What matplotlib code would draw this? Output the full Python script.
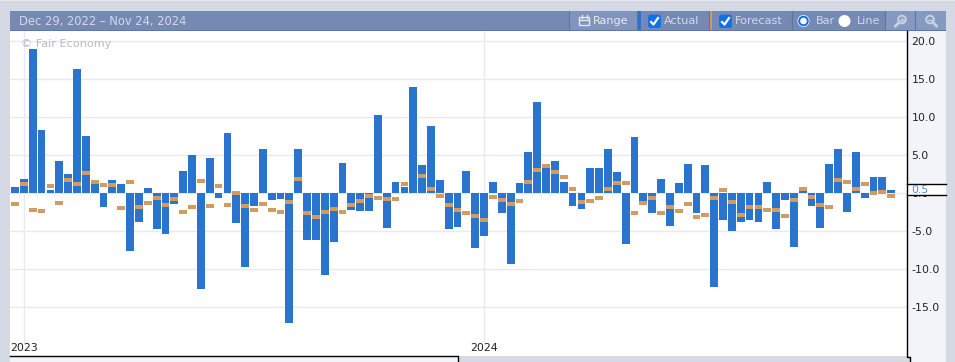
import numpy as np
import matplotlib.pyplot as plt
from matplotlib.patches import Rectangle, Circle, FancyBboxPatch

# weekly values
actual = [0.8, 1.85, 18.95, 8.4, 0.5, 4.2, 2.5, 16.3, 7.6, 1.3,
          -1.8, 1.7, 1.2, -7.6, -3.8, 0.65, -4.7, -5.3, -1.45, 3.0,
          5.1, -12.6, 4.6, -0.65, 7.9, -3.95, -9.7, -1.7, 5.9, -0.9,
          -0.8, -17.1, 5.9, -6.2, -6.2, -10.8, -6.45, 4.05, -2.25, -2.35,
          -2.35, 10.3, -4.6, 1.45, 0.9, 13.95, 3.7, 8.8, 1.7, -4.75,
          -4.45, 3.0, -7.2, -5.65, 1.45, -2.6, -9.35, 1.3, 5.5, 12.0,
          3.4, 4.2, 1.45, -1.7, -2.1, 3.3, 3.3, 5.9, 2.75, -6.6,
          7.35, -1.3, -2.6, 1.85, -4.35, 1.3, 3.8, -2.6, 3.7, -12.35,
          -3.55, -5.0, -3.8, -3.55, -3.8, 1.45, -4.75, -0.9, -7.1, 0.4,
          -1.7, -4.6, 3.9, 5.8, -2.4, 5.5, -0.65, 2.2, 2.2, 0.5]
forecast = [-1.4, 1.25, -2.2, -2.3, 1.0, -1.3, 1.75, 1.25, 2.7, 1.5,
            1.1, 1.1, -1.9, 1.5, -1.8, -1.3, -0.6, -1.55, -0.75, -2.45,
            -1.8, 1.6, -1.65, 1.0, -1.55, 0.05, -1.65, -2.2, -1.4, -2.2,
            -2.45, -1.15, 1.9, -2.6, -3.1, -2.45, -2.1, -2.45, -1.55, -1.05,
            -0.4, -0.6, -0.75, -0.75, 1.25, np.nan, 2.3, 0.6, -0.35, -1.55,
            -2.2, -2.6, -3.0, -3.5, -0.5, -0.9, -1.4, -1.0, 1.55, 3.1,
            3.6, 2.85, 2.2, 0.55, -1.2, -1.0, -0.6, 0.55, 1.35, 1.35,
            -2.6, -1.3, -0.6, -2.6, -1.8, -2.35, -1.4, -3.1, -2.85, -0.6,
            0.45, -1.1, -2.85, -1.8, -1.8, -2.2, -2.2, -3.0, -0.9, 0.55,
            -0.5, -1.55, -1.8, 1.75, 1.5, 0.55, 1.25, 0.05, 0.2, -0.35]
y_ticks = [-15, -10, -5, 0, 5, 10, 15, 20]
year_pos = [1, 53]
year_labels = ['2023', '2024']
current = 0.5

BLUE = '#2874cf'
ORANGE = '#d39b5f'
GRID = '#e8e9f1'
BG = '#d5d9e3'
HEADER = '#7589b4'
PANEL = '#f3f4f9'
ICON = '#c9d1e3'

plt.rcParams['font.family'] = ['DejaVu Sans']

W, H = 955, 362
fig = plt.figure(figsize=(W / 100, H / 100), dpi=100, facecolor=BG)

# panel behind the value labels
back = fig.add_axes([0, 0, 1, 1], facecolor='none', zorder=0)
back.set_xlim(0, W)
back.set_ylim(H, 0)
back.axis('off')
back.add_patch(Rectangle((906.5, 31), 39.5, 325, color=PANEL, lw=0))
back.add_patch(Rectangle((910, 356), 36, 6, color=PANEL, lw=0))

# main chart, 8.85 px per week and 7.6 px per unit
ax = fig.add_axes([10 / W, 1 - 356 / H, 896.5 / W, 325 / H], zorder=1)
x = np.arange(len(actual))
ax.set_xlim(-0.565, 100.73)
ax.set_ylim(-21.4, 21.36)
ax.set_facecolor('white')
for s in ['top', 'left', 'bottom', 'right']:
    ax.spines[s].set_visible(False)
ax.set_axisbelow(True)
ax.grid(axis='y', color=GRID, lw=1)
ax.vlines(year_pos, -19.5, 21.36, color=GRID, lw=1, zorder=0)
ax.bar(x, actual, width=0.88, color=BLUE, zorder=2)
ax.bar(x, [0.53] * len(x), bottom=np.array(forecast) - 0.265, width=0.88,
       color=ORANGE, zorder=3)

ax.yaxis.tick_right()
ax.set_yticks(y_ticks)
ax.set_yticklabels(['%.1f' % v for v in y_ticks], fontsize=7.9, color='#222222')
ax.tick_params(axis='y', length=0, pad=3.5)
ax.set_xticks([])
for p, s in zip(year_pos, year_labels):
    ax.text(p, -20.36, s, ha='center', va='center', fontsize=7.9, color='#222222')

# page furniture in pixel coordinates, on a clear axes on top
ui = fig.add_axes([0, 0, 1, 1], facecolor='none', zorder=5)
ui.set_xlim(0, W)
ui.set_ylim(H, 0)
ui.axis('off')

ui.add_patch(Rectangle((0, 0), W, 1, color='#e6e8ee', lw=0))
ui.add_patch(Rectangle((10, 11), 936, 20, color=HEADER, lw=0))
ui.add_patch(Rectangle((10, 30), 936, 1, color='#5b76aa', lw=0))

# right hand value panel
ui.plot([906.5, 906.5, 910, 910], [31, 356.5, 356.5, 362], color='black', lw=1)
ui.add_patch(Rectangle((906.5, 184), 39.5, 11.3, color='white', lw=0))
ui.plot([906.5, 946], [184, 184], color='black', lw=1)
ui.plot([906.5, 946], [195.3, 195.3], color='black', lw=1)
ui.text(911, 190, '%.1f' % current, color='#4a90e2', fontsize=7.9, va='center')

# scroller under the chart
ui.add_patch(Rectangle((10, 356), 448, 6, color=PANEL, lw=0))
ui.plot([10, 458.3, 458.3], [356.3, 356.3, 362], color='black', lw=1)

# header text and controls
TXT = '#d3d9e8'
ui.text(19, 21, 'Dec 29, 2022 – Nov 24, 2024', color=TXT, fontsize=8.3, va='center')
ui.text(21, 44, '© Fair Economy', color='#bbbbbb', fontsize=8.1, va='center')

ui.add_patch(Rectangle((569, 11), 68, 19, color='#8094bd', lw=0))
ui.add_patch(Rectangle((637, 11), 4, 19, color=BLUE, lw=0))
ui.add_patch(Rectangle((709, 11), 3, 19, color=ORANGE, lw=0))
ui.add_patch(Rectangle((885, 11), 30, 19, color='#8599c2', lw=0))
ui.add_patch(Rectangle((915.5, 11), 30.5, 19, color='#8599c2', lw=0))
for sx in [568.5, 637, 708.5, 791.5, 884.5, 915]:
    ui.plot([sx, sx], [11, 30], color='#5f75a3', lw=0.8)

# calendar icon
ui.add_patch(Rectangle((579, 17), 10, 8, fc='none', ec='#e4e8f1', lw=1))
ui.plot([579, 589], [20, 20], color='#e4e8f1', lw=1)
ui.plot([581.5, 581.5], [15, 18], color='#e4e8f1', lw=1)
ui.plot([586.5, 586.5], [15, 18], color='#e4e8f1', lw=1)
ui.text(593, 21, 'Range', color='#e8ebf2', fontsize=8, va='center')

for cx in [648, 719]:
    ui.add_patch(FancyBboxPatch((cx + 0.5, 15), 12, 12.5, boxstyle='round,pad=0,rounding_size=2',
                                fc='#0f6ff0', ec='#0f6ff0', lw=0.5))
    ui.plot([cx + 3, cx + 5.5, cx + 10], [22, 24.5, 18], color='white', lw=1.6)
ui.text(663.5, 21, 'Actual', color=TXT, fontsize=8.1, va='center')
ui.text(734.5, 21, 'Forecast', color=TXT, fontsize=8.1, va='center')

ui.add_patch(Circle((803.5, 21), 6, fc='white', ec='none'))
ui.add_patch(Circle((803.5, 21), 4.3, fc='white', ec='#0f6ff0', lw=1.4))
ui.add_patch(Circle((844.5, 21), 6, fc='white', ec='none'))
ui.text(815.5, 21, 'Bar', color=TXT, fontsize=8.1, va='center')
ui.text(856.5, 21, 'Line', color=TXT, fontsize=8.1, va='center')

# magnifier icons, plus and minus
ui.add_patch(Circle((902, 19.5), 3.8, fc='none', ec=ICON, lw=1.4))
ui.plot([900, 904], [19.5, 19.5], color=ICON, lw=1)
ui.plot([902, 902], [17.5, 21.5], color=ICON, lw=1)
ui.plot([895.5, 899], [26, 22.5], color=ICON, lw=2)
ui.add_patch(Circle((930, 19.5), 3.8, fc='none', ec=ICON, lw=1.4))
ui.plot([928, 932], [19.5, 19.5], color=ICON, lw=1)
ui.plot([933, 936.5], [22.5, 26], color=ICON, lw=2)

fig.savefig('out.png', dpi=100, facecolor=BG)
